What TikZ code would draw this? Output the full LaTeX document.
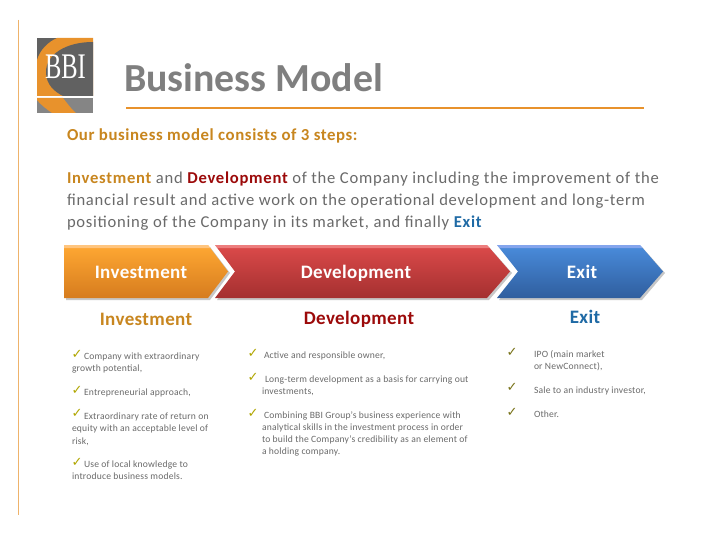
\documentclass[tikz,border=0pt]{standalone}
\usepackage{fontspec}
\usepackage{graphicx}
\setmainfont{Carlito}
\newfontfamily\checkfont{DejaVu Sans}
\newfontfamily\logofont{Liberation Serif}
\usetikzlibrary{calc,positioning}
\definecolor{bbiorange}{HTML}{E8922C}
\definecolor{bbigold}{HTML}{C8861F}
\definecolor{bbired}{HTML}{9C0A0A}
\definecolor{bbiblue}{HTML}{1F6AA5}
\definecolor{bbigray}{HTML}{7F7F7F}
\definecolor{bbitext}{HTML}{6A6A6A}
\definecolor{orangetop}{HTML}{FFA833}
\definecolor{orangemid}{HTML}{F4962B}
\definecolor{orangebot}{HTML}{D67C1E}
\definecolor{redtop}{HTML}{DC4A4A}
\definecolor{redmid}{HTML}{C93F3F}
\definecolor{redbot}{HTML}{A43030}
\definecolor{bluetop}{HTML}{4A8CDC}
\definecolor{bluemid}{HTML}{3E79C6}
\definecolor{bluebot}{HTML}{2F5E9E}
\newcommand{\sz}[1]{\fontsize{#1}{#1}\selectfont}
\tikzset{
  line/.style={anchor=base west, inner sep=0pt, outer sep=0pt},
  para/.style={line, text=bbitext, font=\sz{16.6}\addfontfeatures{LetterSpace=4.5}},
  item/.style={line, text=bbitext, font=\sz{9.6}\addfontfeatures{LetterSpace=2}},
  tick/.style={inner sep=0pt, outer sep=0pt, text=#1, font=\checkfont\sz{13}},
  tick/.default={olive!70!yellow},
  band/.style={anchor=base, inner sep=0pt, outer sep=0pt, text=white, font=\bfseries\sz{19}\addfontfeatures{LetterSpace=2}},
  head/.style={anchor=base, inner sep=0pt, outer sep=0pt, font=\bfseries\sz{19}\addfontfeatures{LetterSpace=2}},
  shadow/.style={fill=black!22},
}
\begin{document}
\begin{tikzpicture}[x=1pt, y=-1pt]
    \useasboundingbox (0,0) rectangle (720,540);
    \fill[white] (0,0) rectangle (720,540);
    % frame lines
    \draw[bbiorange!70, line width=1pt] (18,20) -- (18,515);
    \draw[bbiorange, line width=2pt] (126,108.5) -- (644,108.5);

    % logo
    \fill[black!62] (37,38) rectangle (93,96);
    \fill[bbiorange] (57,38) .. controls (48,42) and (40,50) .. (37,60) -- (37,96) -- (93,96) -- (93,38) -- cycle;
    \fill[black!62] (93,42) .. controls (65,42) and (46,55) .. (46,72) .. controls (46,85) and (55,92) .. (63,96) -- (93,96) -- cycle;
    \fill[black!48] (37,98) rectangle (93,113);
    \fill[bbiorange] (37,98) -- (63,98) .. controls (67,103) and (72,110) .. (76,113) -- (52,113) .. controls (45,108) and (40,104) .. (37,100) -- cycle;
    \node[line, text=white, font=\logofont\sz{36}] (logo) at (45,79) {\scalebox{.68}[1]{BBI}};

    % title
    \node[line, text=bbigray, font=\bfseries\sz{39.8}] (title) at (124,92) {Business Model};
    \node[line, text=bbigold, font=\bfseries\sz{16.8}\addfontfeatures{LetterSpace=3.5}] (intro) at (67,141) {Our business model consists of 3 steps:};
    \node[para] (para1) at (67,184) {\textcolor{bbigold}{\bfseries Investment} and \textcolor{bbired}{\bfseries Development} of the Company including the improvement of the};
    \node[para] (para2) at (67,206) {financial result and active work on the operational development and long-term};
    \node[para] (para3) at (67,227) {positioning of the Company in its market, and finally \textcolor{bbiblue}{\bfseries Exit}};

    % shadows of the three steps
    \fill[shadow] (66,247) -- (210,247) -- (230,273) -- (210,300) -- (66,300) -- cycle;
    \fill[shadow] (217,247) -- (489,247) -- (512,273) -- (489,300) -- (217,300) -- (237,273) -- cycle;
    \fill[shadow] (499,247) -- (642,247) -- (665,273) -- (642,300) -- (499,300) -- (520,273) -- cycle;
    % the three steps
    \shade[top color=orangetop, middle color=orangemid, bottom color=orangebot] (64,245) -- (208,245) -- (228,271.5) -- (208,298) -- (64,298) -- cycle;
    \shade[top color=redtop, middle color=redmid, bottom color=redbot] (215,245) -- (487,245) -- (510,271.5) -- (487,298) -- (215,298) -- (235,271.5) -- cycle;
    \shade[top color=bluetop, middle color=bluemid, bottom color=bluebot] (497,245) -- (640,245) -- (663,271.5) -- (640,298) -- (497,298) -- (518,271.5) -- cycle;
    % top highlights
    \fill[orange!30!white, opacity=.6] (64,245) -- (208,245) -- (210.3,248) -- (64,248) -- cycle;
    \fill[red!30!white, opacity=.5] (215,245) -- (487,245) -- (489.6,248) -- (217.3,248) -- cycle;
    \fill[blue!25!white, opacity=.5] (497,245) -- (640,245) -- (642.6,248) -- (499.4,248) -- cycle;
    \node[band] (bandinv) at (141,278) {Investment};
    \node[band] (banddev) at (356,278) {Development};
    \node[band] (bandexit) at (582,278) {Exit};

    % column heads
    \node[head, text=bbigold] (headinv) at (146,325) {Investment};
    \node[head, text=bbired] (headdev) at (359,324) {Development};
    \node[head, text=bbiblue] (headexit) at (585,323) {Exit};

    % first column
    \node[tick] (t1) at (77,354) {✓};
    \node[item] (a1) at (84,359) {Company with extraordinary};
    \node[item] (a2) at (72,371) {growth potential,};
    \node[tick] (t2) at (77,390) {✓};
    \node[item] (a3) at (84,395) {Entrepreneurial approach,};
    \node[tick] (t3) at (77,413) {✓};
    \node[item] (a4) at (84,419) {Extraordinary rate of return on};
    \node[item] (a5) at (72,431) {equity with an acceptable level of};
    \node[item] (a6) at (72,444) {risk,};
    \node[tick] (t4) at (77,462) {✓};
    \node[item] (a7) at (84,467) {Use of local knowledge to};
    \node[item] (a8) at (72,479) {introduce business models.};

    % second column
    \node[tick] (t5) at (253,353) {✓};
    \node[item] (b1) at (264,358) {Active and responsible owner,};
    \node[tick] (t6) at (253,377) {✓};
    \node[item] (b2) at (265,382) {Long-term development as a basis for carrying out};
    \node[item] (b3) at (262,394) {investments,};
    \node[tick] (t7) at (253,413) {✓};
    \node[item] (b4) at (264,418) {Combining BBI Group's business experience with};
    \node[item] (b5) at (262,430) {analytical skills in the investment process in order};
    \node[item] (b6) at (262,442) {to build the Company's credibility as an element of};
    \node[item] (b7) at (262,454) {a holding company.};

    % third column
    \node[tick=olive!80!black] (t8) at (512,352) {✓};
    \node[item] (c1) at (534,357) {IPO (main market};
    \node[item] (c2) at (534,369) {or NewConnect),};
    \node[tick=olive!80!black] (t9) at (512,387) {✓};
    \node[item] (c3) at (534,393) {Sale to an industry investor,};
    \node[tick=olive!80!black] (t10) at (512,412) {✓};
    \node[item] (c4) at (534,417) {Other.};
\end{tikzpicture}
\end{document}
